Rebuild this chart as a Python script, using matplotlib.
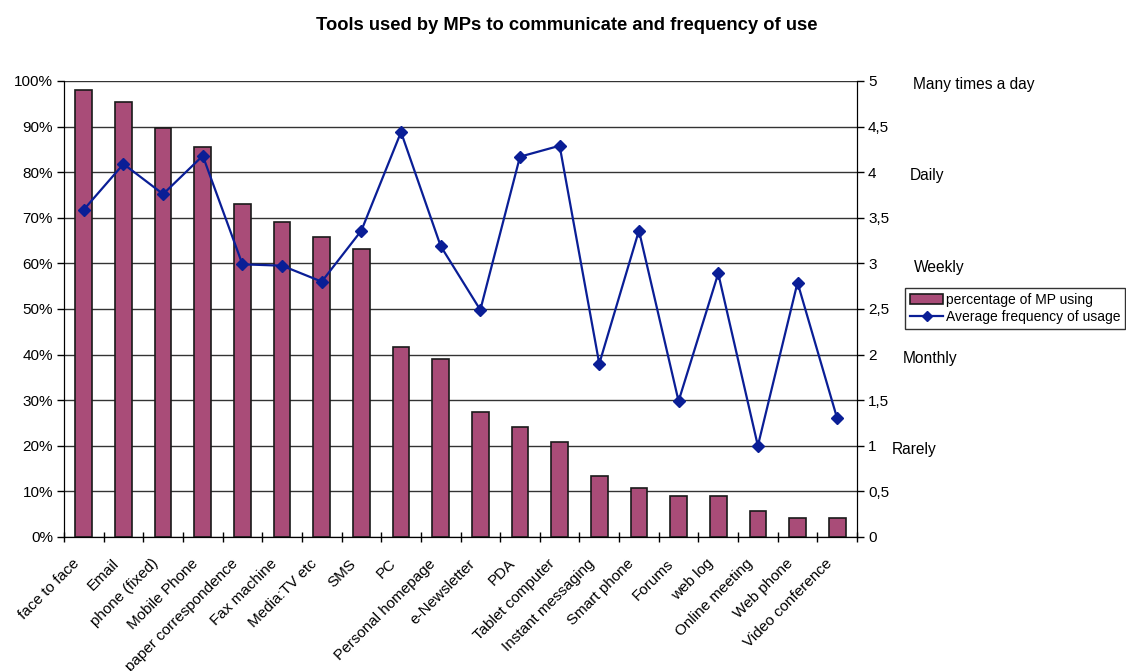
import numpy as np
import matplotlib
matplotlib.use("Agg")
import matplotlib.pyplot as plt
from matplotlib.ticker import FuncFormatter, FixedLocator
import matplotlib.transforms as mtransforms

plt.rcParams['font.family'] = ['Liberation Sans', 'DejaVu Sans']

# Data
tools = ["face to face", "Email", "phone (fixed)", "Mobile Phone", "paper correspondence",
         "Fax machine", "Media:TV etc", "SMS", "PC", "Personal homepage", "e-Newsletter",
         "PDA", "Tablet computer", "Instant messaging", "Smart phone", "Forums", "web log",
         "Online meeting", "Web phone", "Video conference"]
pct_using = [98.0, 95.5, 89.8, 85.6, 73.0, 69.0, 65.7, 63.2, 41.6, 39.1, 27.5,
             24.1, 20.8, 13.4, 10.8, 9.1, 9.1, 5.8, 4.2, 4.2]
avg_freq = [3.59, 4.09, 3.76, 4.18, 2.99, 2.975, 2.8, 3.36, 4.44, 3.19, 2.49,
            4.17, 4.29, 1.90, 3.36, 1.49, 2.89, 1.00, 2.79, 1.30]
freq_names = ["Many times a day", "Daily", "Weekly", "Monthly", "Rarely"]
freq_levels = [5, 4, 3, 2, 1]

bar_color = "#A94C78"
line_color = "#0A1E96"

fig = plt.figure(figsize=(11.26, 6.71), dpi=100)
ax = fig.add_axes([64/1126, 1 - 537/671, (857-64)/1126, (537-81)/671])
ax2 = ax.twinx()

x = np.arange(len(tools))
ax.set_zorder(1)
ax2.set_zorder(2)
ax.patch.set_visible(False)

bars = ax.bar(x, pct_using, width=0.42, color=bar_color, edgecolor="#1a1a1a",
              linewidth=1.2, zorder=3, label="percentage of MP using")
line, = ax2.plot(x, avg_freq, color=line_color, lw=1.6, marker="D", markersize=6,
                 label="Average frequency of usage")

ax.set_xlim(-0.5, len(tools) - 0.5)
ax.set_ylim(0, 100)
ax2.set_ylim(0, 5)

ax.set_yticks(np.arange(0, 101, 10))
ax.yaxis.set_major_formatter(FuncFormatter(lambda v, p: "%d%%" % v))
ax.yaxis.grid(True, color="#333333", lw=1.0, zorder=0)
ax.set_axisbelow(True)

ax2.set_yticks(np.arange(0, 5.01, 0.5))
ax2.yaxis.set_major_formatter(FuncFormatter(lambda v, p: ("%g" % v).replace(".", ",")))

ax.set_xticks(x)
ax.set_xticklabels(tools, rotation=45, ha="right", rotation_mode="anchor", fontsize=11)
ax.tick_params(axis="x", which="major", length=0, pad=14)
ax.xaxis.set_minor_locator(FixedLocator(np.arange(-0.5, len(tools), 1.0)))
ax.tick_params(axis="x", which="minor", length=7, direction="inout", width=1)
offset = mtransforms.ScaledTranslation(-12/100, 0, fig.dpi_scale_trans)
for lab in ax.get_xticklabels():
    lab.set_transform(lab.get_transform() + offset)

ax.tick_params(axis="y", length=5, width=1, labelsize=11, pad=3)
ax2.tick_params(axis="y", length=5, width=1, labelsize=11, pad=3)

ax.spines["top"].set_visible(False)
ax2.spines["top"].set_visible(False)

# frequency level labels on the right
label_x = [913, 910, 914, 903, 892]
for name, lvl, px in zip(freq_names, freq_levels, label_x):
    ax2.text((px - 64) / (857 - 64), lvl - 0.04, name,
             transform=mtransforms.blended_transform_factory(ax2.transAxes, ax2.transData),
             ha="left", va="center", fontsize=11.2)

fig.text(567/1126, 1 - 26/671, "Tools used by MPs to communicate and frequency of use",
         ha="center", va="center", fontsize=13.2, fontweight="bold")

leg = fig.legend([bars, line], ["percentage of MP using", "Average frequency of usage"],
                 loc="upper left", bbox_to_anchor=(905/1126, 1 - 288/671),
                 fontsize=10, frameon=True, fancybox=False, edgecolor="#333333",
                 framealpha=1, borderpad=0.35, handlelength=2.4, handletextpad=0.2,
                 labelspacing=0.25, borderaxespad=0, markerscale=0.8)
leg.get_frame().set_linewidth(1.0)

fig.savefig("out.png", dpi=100)
